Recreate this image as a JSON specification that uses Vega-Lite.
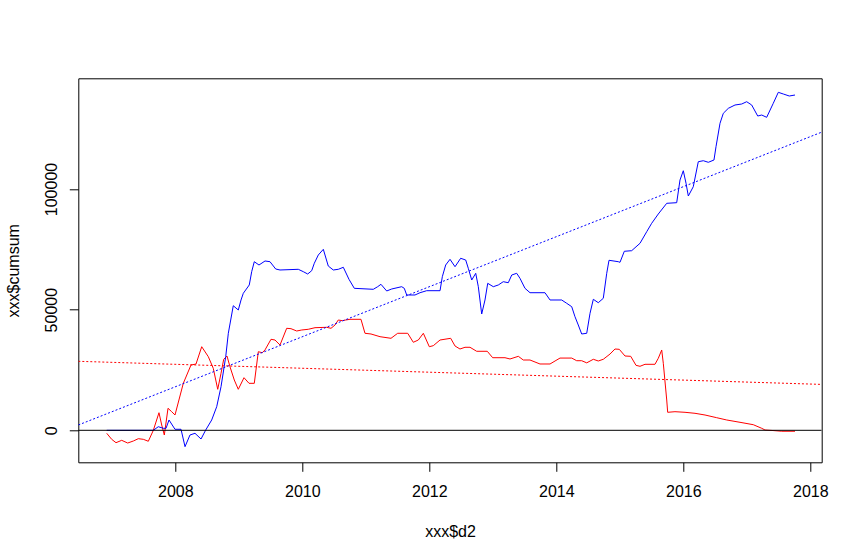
{
  "$schema": "https://vega.github.io/schema/vega-lite/v6.json",
  "autosize": {"type": "none"},
  "width": 743.4,
  "height": 384,
  "padding": {"left": 78.3, "top": 78.3, "right": 40.3, "bottom": 97.7},
  "background": "white",
  "config": {
    "view": {"stroke": "#000000", "strokeWidth": 1},
    "font": "Liberation Sans",
    "axis": {
      "domain": false, "grid": false, "tickColor": "#000000", "tickSize": 9, "tickWidth": 1,
      "labelFont": "Liberation Sans", "labelFontSize": 16, "labelColor": "#000000",
      "titleFont": "Liberation Sans", "titleFontSize": 16, "titleFontWeight": "normal", "titleColor": "#000000"
    }
  },
  "datasets": {
    "red": [
      {"year": 2006.920, "value": -1240}, {"year": 2006.998, "value": -3730}, {"year": 2007.066, "value": -5140},
      {"year": 2007.156, "value": -4150}, {"year": 2007.250, "value": -5270}, {"year": 2007.339, "value": -4440},
      {"year": 2007.417, "value": -3480}, {"year": 2007.496, "value": -3730}, {"year": 2007.575, "value": -4550},
      {"year": 2007.654, "value": 0}, {"year": 2007.743, "value": 7290}, {"year": 2007.786, "value": 2190},
      {"year": 2007.827, "value": -1950}, {"year": 2007.885, "value": 9120}, {"year": 2007.943, "value": 7710},
      {"year": 2007.995, "value": 6340}, {"year": 2008.126, "value": 19470}, {"year": 2008.247, "value": 27050},
      {"year": 2008.326, "value": 27450}, {"year": 2008.416, "value": 34640}, {"year": 2008.520, "value": 30500},
      {"year": 2008.598, "value": 25690}, {"year": 2008.668, "value": 16990}, {"year": 2008.720, "value": 23620},
      {"year": 2008.762, "value": 29420}, {"year": 2008.814, "value": 30790}, {"year": 2008.861, "value": 26350},
      {"year": 2008.929, "value": 20840}, {"year": 2008.992, "value": 16990}, {"year": 2009.082, "value": 21800},
      {"year": 2009.161, "value": 19470}, {"year": 2009.244, "value": 19470}, {"year": 2009.307, "value": 32570},
      {"year": 2009.370, "value": 32150}, {"year": 2009.413, "value": 33320}, {"year": 2009.507, "value": 37710},
      {"year": 2009.570, "value": 37420}, {"year": 2009.649, "value": 35340}, {"year": 2009.754, "value": 42270},
      {"year": 2009.822, "value": 42110}, {"year": 2009.912, "value": 41150}, {"year": 2009.991, "value": 41570},
      {"year": 2010.094, "value": 41860}, {"year": 2010.200, "value": 42520}, {"year": 2010.384, "value": 42680},
      {"year": 2010.452, "value": 42270}, {"year": 2010.515, "value": 43640}, {"year": 2010.567, "value": 45710},
      {"year": 2010.630, "value": 45420}, {"year": 2010.684, "value": 45710}, {"year": 2010.751, "value": 46000},
      {"year": 2010.924, "value": 46000}, {"year": 2010.987, "value": 40200}, {"year": 2011.082, "value": 39910},
      {"year": 2011.224, "value": 38790}, {"year": 2011.397, "value": 38120}, {"year": 2011.502, "value": 40200},
      {"year": 2011.660, "value": 40200}, {"year": 2011.748, "value": 36470}, {"year": 2011.827, "value": 37420},
      {"year": 2011.906, "value": 40200}, {"year": 2012.000, "value": 34640}, {"year": 2012.063, "value": 35070},
      {"year": 2012.169, "value": 37420}, {"year": 2012.337, "value": 38120}, {"year": 2012.405, "value": 34940},
      {"year": 2012.483, "value": 33690}, {"year": 2012.562, "value": 34400}, {"year": 2012.641, "value": 34400},
      {"year": 2012.746, "value": 32740}, {"year": 2012.913, "value": 32740}, {"year": 2012.998, "value": 30080},
      {"year": 2013.192, "value": 30080}, {"year": 2013.271, "value": 29550}, {"year": 2013.402, "value": 30660},
      {"year": 2013.480, "value": 29130}, {"year": 2013.586, "value": 29130}, {"year": 2013.743, "value": 27480},
      {"year": 2013.901, "value": 27480}, {"year": 2013.980, "value": 28720}, {"year": 2014.058, "value": 29930},
      {"year": 2014.243, "value": 29930}, {"year": 2014.321, "value": 28840}, {"year": 2014.400, "value": 28840},
      {"year": 2014.479, "value": 27950}, {"year": 2014.583, "value": 29430}, {"year": 2014.661, "value": 28720},
      {"year": 2014.740, "value": 29430}, {"year": 2014.846, "value": 31610}, {"year": 2014.924, "value": 33690},
      {"year": 2014.992, "value": 33560}, {"year": 2015.082, "value": 30790}, {"year": 2015.172, "value": 30660},
      {"year": 2015.255, "value": 26930}, {"year": 2015.318, "value": 26520}, {"year": 2015.397, "value": 27350},
      {"year": 2015.554, "value": 27350}, {"year": 2015.606, "value": 29840}, {"year": 2015.660, "value": 33280},
      {"year": 2015.685, "value": 27770}, {"year": 2015.739, "value": 12560}, {"year": 2015.754, "value": 7460},
      {"year": 2015.869, "value": 7710}, {"year": 2016.027, "value": 7460}, {"year": 2016.184, "value": 7040},
      {"year": 2016.342, "value": 6340}, {"year": 2016.526, "value": 5220}, {"year": 2016.684, "value": 4270},
      {"year": 2016.893, "value": 3310}, {"year": 2017.102, "value": 2320}, {"year": 2017.235, "value": 830},
      {"year": 2017.287, "value": 120}, {"year": 2017.413, "value": -100}, {"year": 2017.550, "value": -400},
      {"year": 2017.759, "value": -400}
    ],
    "blue": [
      {"year": 2006.920, "value": 0}, {"year": 2007.654, "value": 0}, {"year": 2007.732, "value": 1490},
      {"year": 2007.811, "value": 830}, {"year": 2007.854, "value": 830}, {"year": 2007.901, "value": 4270},
      {"year": 2007.995, "value": 420}, {"year": 2008.090, "value": 420}, {"year": 2008.153, "value": -6790},
      {"year": 2008.231, "value": -1950}, {"year": 2008.310, "value": -1240}, {"year": 2008.405, "value": -3610},
      {"year": 2008.479, "value": 125}, {"year": 2008.573, "value": 4270}, {"year": 2008.652, "value": 9780},
      {"year": 2008.720, "value": 18070}, {"year": 2008.794, "value": 30500}, {"year": 2008.835, "value": 40200},
      {"year": 2008.913, "value": 51630}, {"year": 2008.992, "value": 49850}, {"year": 2009.035, "value": 54000},
      {"year": 2009.071, "value": 56770}, {"year": 2009.165, "value": 60220}, {"year": 2009.203, "value": 65730},
      {"year": 2009.244, "value": 69870}, {"year": 2009.318, "value": 68500}, {"year": 2009.413, "value": 70160},
      {"year": 2009.491, "value": 69870}, {"year": 2009.581, "value": 66840}, {"year": 2009.649, "value": 66430},
      {"year": 2009.937, "value": 66720}, {"year": 2010.016, "value": 65730}, {"year": 2010.085, "value": 64770},
      {"year": 2010.148, "value": 66140}, {"year": 2010.189, "value": 69210}, {"year": 2010.252, "value": 72650},
      {"year": 2010.331, "value": 75000}, {"year": 2010.409, "value": 68080}, {"year": 2010.488, "value": 66430},
      {"year": 2010.567, "value": 66720}, {"year": 2010.646, "value": 67550}, {"year": 2010.735, "value": 62570},
      {"year": 2010.819, "value": 58840}, {"year": 2011.118, "value": 58430}, {"year": 2011.187, "value": 59510},
      {"year": 2011.239, "value": 60500}, {"year": 2011.329, "value": 57730}, {"year": 2011.408, "value": 58560},
      {"year": 2011.565, "value": 59510}, {"year": 2011.606, "value": 58840}, {"year": 2011.644, "value": 56070},
      {"year": 2011.775, "value": 56070}, {"year": 2011.854, "value": 57020}, {"year": 2011.959, "value": 57850},
      {"year": 2012.169, "value": 57850}, {"year": 2012.205, "value": 63650}, {"year": 2012.258, "value": 68500},
      {"year": 2012.326, "value": 70860}, {"year": 2012.405, "value": 67790}, {"year": 2012.494, "value": 71280},
      {"year": 2012.573, "value": 70570}, {"year": 2012.614, "value": 67130}, {"year": 2012.668, "value": 62280},
      {"year": 2012.731, "value": 65060}, {"year": 2012.772, "value": 59510}, {"year": 2012.825, "value": 48190},
      {"year": 2012.877, "value": 54000}, {"year": 2012.920, "value": 60910}, {"year": 2013.008, "value": 59510},
      {"year": 2013.087, "value": 60220}, {"year": 2013.165, "value": 61580}, {"year": 2013.244, "value": 61160},
      {"year": 2013.298, "value": 64350}, {"year": 2013.376, "value": 65060}, {"year": 2013.428, "value": 62990},
      {"year": 2013.507, "value": 58840}, {"year": 2013.586, "value": 57020}, {"year": 2013.822, "value": 57020},
      {"year": 2013.901, "value": 54000}, {"year": 2014.085, "value": 54000}, {"year": 2014.164, "value": 52630},
      {"year": 2014.243, "value": 51220}, {"year": 2014.294, "value": 47080}, {"year": 2014.346, "value": 43640},
      {"year": 2014.400, "value": 39910}, {"year": 2014.479, "value": 40200}, {"year": 2014.531, "value": 48480},
      {"year": 2014.583, "value": 54290}, {"year": 2014.661, "value": 52880}, {"year": 2014.740, "value": 54700},
      {"year": 2014.794, "value": 65060}, {"year": 2014.830, "value": 70450}, {"year": 2014.976, "value": 69870},
      {"year": 2015.003, "value": 69620}, {"year": 2015.071, "value": 74180}, {"year": 2015.187, "value": 74430},
      {"year": 2015.318, "value": 77490}, {"year": 2015.424, "value": 82300}, {"year": 2015.502, "value": 85780},
      {"year": 2015.606, "value": 89630}, {"year": 2015.739, "value": 94070}, {"year": 2015.896, "value": 94320},
      {"year": 2015.948, "value": 103730}, {"year": 2016.000, "value": 107570}, {"year": 2016.043, "value": 102350},
      {"year": 2016.079, "value": 97090}, {"year": 2016.157, "value": 100940}, {"year": 2016.236, "value": 111300},
      {"year": 2016.315, "value": 111720}, {"year": 2016.394, "value": 111060}, {"year": 2016.483, "value": 112010},
      {"year": 2016.515, "value": 117520}, {"year": 2016.578, "value": 127220}, {"year": 2016.630, "value": 131360},
      {"year": 2016.709, "value": 133430}, {"year": 2016.814, "value": 134800}, {"year": 2016.920, "value": 135220},
      {"year": 2016.998, "value": 136170}, {"year": 2017.077, "value": 134800}, {"year": 2017.172, "value": 130240},
      {"year": 2017.235, "value": 130650}, {"year": 2017.313, "value": 129700}, {"year": 2017.417, "value": 135510},
      {"year": 2017.496, "value": 140060}, {"year": 2017.575, "value": 139360}, {"year": 2017.669, "value": 138530},
      {"year": 2017.759, "value": 138940}
    ],
    "blue_fit": [{"year": 2006.4724, "value": 2196}, {"year": 2018.1795, "value": 123554}],
    "red_fit": [{"year": 2006.4724, "value": 28594}, {"year": 2018.1795, "value": 19020}],
    "zero": [{"year": 2006.4724, "value": 0}, {"year": 2018.1795, "value": 0}]
  },
  "encoding": {
    "x": {
      "field": "year", "type": "quantitative",
      "scale": {"domain": [2006.4724, 2018.1795], "nice": false, "zero": false},
      "axis": {
        "values": [2008, 2010, 2012, 2014, 2016, 2018], "format": "d", "labelFlush": false,
        "labelPadding": 12, "labelOverlap": false,
        "title": "xxx$d2", "titleX": 371.7, "titleY": 73.7, "titleBaseline": "alphabetic", "titleAnchor": "middle"
      }
    },
    "y": {
      "field": "value", "type": "quantitative",
      "scale": {"domain": [-13261, 145870], "nice": false, "zero": false},
      "axis": {
        "values": [0, 50000, 100000], "format": "d", "labelAngle": 270, "labelAlign": "center",
        "labelBaseline": "bottom", "labelPadding": 10, "labelFlush": false, "labelOverlap": false,
        "title": "xxx$cumsum", "titleAngle": 270, "titleX": -59.8, "titleY": 192,
        "titleBaseline": "alphabetic", "titleAlign": "center"
      }
    }
  },
  "layer": [
    {"data": {"name": "red"}, "mark": {"type": "line", "color": "#ff0000", "strokeWidth": 1}},
    {"data": {"name": "blue"}, "mark": {"type": "line", "color": "#0000ff", "strokeWidth": 1}},
    {"data": {"name": "blue_fit"}, "mark": {"type": "line", "color": "#0000ff", "strokeWidth": 1, "strokeDash": [2, 2], "clip": true}},
    {"data": {"name": "red_fit"}, "mark": {"type": "line", "color": "#ff0000", "strokeWidth": 1, "strokeDash": [2, 2], "clip": true}},
    {"data": {"name": "zero"}, "mark": {"type": "line", "color": "#000000", "strokeWidth": 1, "clip": true}}
  ]
}
